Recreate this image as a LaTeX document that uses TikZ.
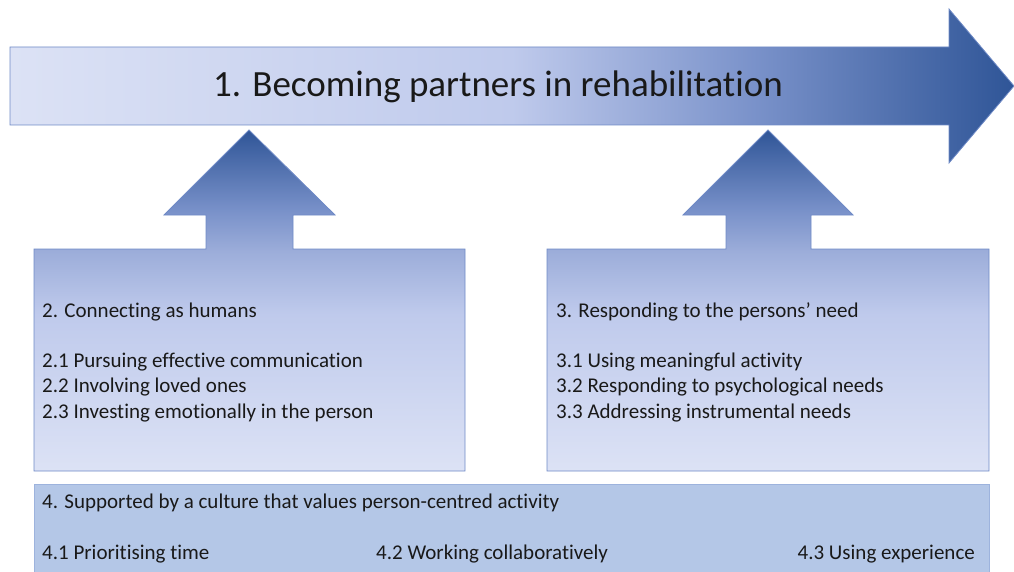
\documentclass[tikz,border=0pt]{standalone}
\usepackage{fontspec}
\setmainfont{Carlito}[Ligatures=NoCommon]
\definecolor{arrowdark}{HTML}{2F5597}
\definecolor{arrowmid}{HTML}{7A92CA}
\definecolor{boxmid}{HTML}{9DAEDA}
\definecolor{boxlight}{HTML}{DCE2F5}
\definecolor{boxtext}{HTML}{BFCAEC}
\definecolor{edgeblue}{HTML}{6F8AC6}
\definecolor{stripfill}{HTML}{B4C7E7}
\definecolor{stripedge}{HTML}{9DB3DD}
\pgfdeclarehorizontalshading{mainshade}{100bp}{color(0bp)=(boxlight); color(25bp)=(boxlight); color(50bp)=(boxtext); color(62bp)=(arrowmid); color(75bp)=(arrowdark); color(100bp)=(arrowdark)}
\pgfdeclareverticalshading{upshade}{100bp}{color(0bp)=(boxlight); color(25bp)=(boxlight); color(48bp)=(boxtext); color(57bp)=(boxmid); color(63bp)=(arrowmid); color(75bp)=(arrowdark); color(100bp)=(arrowdark)}
\begin{document}
\begin{tikzpicture}
  [x=1pt,y=-1pt,every node/.style={inner sep=0pt,text=black!90},
   title/.style={font=\fontsize{37}{44}\selectfont,anchor=base},
   item/.style={font=\fontsize{21}{25}\selectfont,anchor=base west},
   blockarrow/.style={draw=edgeblue,line width=0.8pt,line join=miter}]
  \useasboundingbox (0,0) rectangle (1014,572);
  % main arrow
  \path[blockarrow,shading=mainshade] (10,47) -- (949,47) -- (949,9) -- (1014,86)
    -- (949,163) -- (949,125) -- (10,125) -- cycle;
  \node (t1)[title] at (498,97) {1. Becoming partners in rehabilitation};
  % boxes with arrows up
  \path[blockarrow,shading=upshade] (34,249) -- (206,249) -- (206,215) -- (164,215)
    -- (249,130) -- (335,215) -- (293,215) -- (293,249) -- (465,249)
    -- (465,471) -- (34,471) -- cycle;
  \path[blockarrow,shading=upshade] (547,249) -- (726,249) -- (726,215) -- (683,215)
    -- (768,130) -- (853,215) -- (811,215) -- (811,249) -- (989,249)
    -- (989,471) -- (547,471) -- cycle;
  \node (t2)[item] at (42,317) {2. Connecting as humans};
  \node (t21)[item] at (42,367) {2.1 Pursuing effective communication};
  \node (t22)[item] at (42,392) {2.2 Involving loved ones};
  \node (t23)[item] at (42,418) {2.3 Investing emotionally in the person};
  \node (t3)[item] at (556,317) {3. Responding to the persons’ need};
  \node (t31)[item] at (556,367) {3.1 Using meaningful activity};
  \node (t32)[item] at (556,392) {3.2 Responding to psychological needs};
  \node (t33)[item] at (556,418) {3.3 Addressing instrumental needs};
  % bottom strip
  \path[draw=stripedge,fill=stripfill,line width=0.8pt] (34,484) rectangle (989,590);
  \node (t4)[item] at (42,508) {4. Supported by a culture that values person-centred activity};
  \node (t41)[item] at (42,559) {4.1 Prioritising time};
  \node (t42)[item] at (376,559) {4.2 Working collaboratively};
  \node (t43)[item,anchor=base east] at (975,559) {4.3 Using experience};
\end{tikzpicture}
\end{document}
